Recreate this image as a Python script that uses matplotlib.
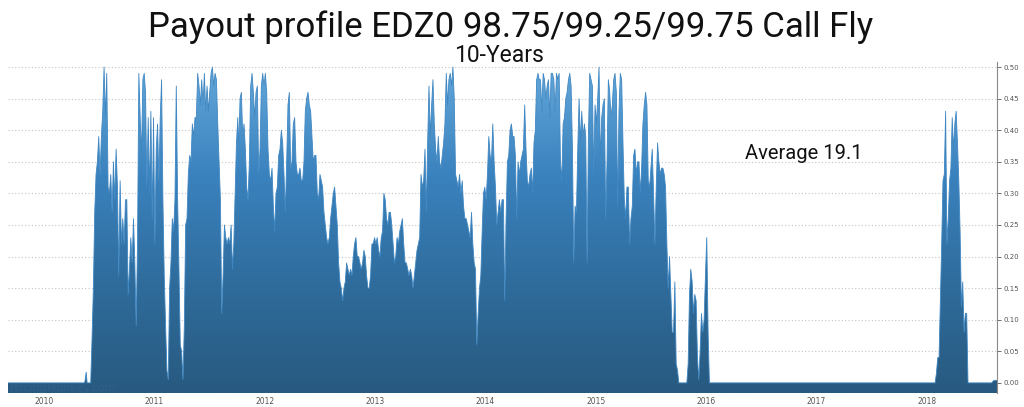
import numpy as np
import pandas as pd
import matplotlib
matplotlib.use('Agg')
import matplotlib.pyplot as plt
import matplotlib.dates as mdates
from matplotlib.colors import LinearSegmentedColormap
from matplotlib.patches import PathPatch

####################################################################################################
# payout values, one block per stretch of time

lead_dates = ['2009-09-03', '2010-05-15', '2010-05-20', '2010-05-23']
lead_values = [0.0, 0.0, 0.017, 0.0]

seg_a = ('2010-05-26', '2011-10-04')
seg_a_values = [
    0.0, 0.0, 0.0, 0.07, 0.15, 0.27, 0.33, 0.35, 0.39, 0.33, 0.39, 0.43, 0.50, 0.42, 0.49,
    0.31, 0.30, 0.33, 0.27, 0.35, 0.29, 0.37, 0.31, 0.17, 0.32, 0.22, 0.26, 0.22, 0.29, 0.29,
    0.14, 0.18, 0.23, 0.19, 0.26, 0.19, 0.09, 0.22, 0.49, 0.42, 0.36, 0.48, 0.49, 0.46, 0.31,
    0.42, 0.30, 0.43, 0.26, 0.42, 0.22, 0.37, 0.41, 0.32, 0.42, 0.48, 0.29, 0.17, 0.09, 0.02,
    0.005, 0.15, 0.19, 0.26, 0.24, 0.29, 0.47, 0.29, 0.18, 0.06, 0.05, 0.005, 0.09, 0.25, 0.26,
    0.33, 0.36, 0.35, 0.41, 0.39, 0.42, 0.42, 0.49, 0.47, 0.44, 0.48, 0.44, 0.49, 0.43, 0.47,
    0.43, 0.46, 0.49, 0.50, 0.47, 0.49, 0.48, 0.41, 0.35, 0.29, 0.11, 0.17, 0.25, 0.23, 0.22,
    0.23, 0.22, 0.25, 0.18, 0.22, 0.30, 0.38, 0.42,
]

seg_b = ('2011-10-07', '2013-02-12')
seg_b_values = [
    0.37, 0.45, 0.46, 0.39, 0.41, 0.37, 0.31, 0.29, 0.35, 0.47, 0.49, 0.46, 0.42, 0.46, 0.47,
    0.33, 0.37, 0.47, 0.49, 0.47, 0.49, 0.46, 0.37, 0.33, 0.32, 0.34, 0.28, 0.24, 0.30, 0.31,
    0.36, 0.37, 0.40, 0.38, 0.33, 0.27, 0.35, 0.44, 0.46, 0.34, 0.35, 0.41, 0.42, 0.35, 0.33,
    0.33, 0.34, 0.32, 0.32, 0.35, 0.43, 0.45, 0.46, 0.44, 0.43, 0.39, 0.35, 0.36, 0.36, 0.30,
    0.29, 0.33, 0.32, 0.31, 0.27, 0.25, 0.23, 0.22, 0.23, 0.26, 0.28, 0.30, 0.31, 0.28, 0.25,
    0.19, 0.16, 0.15, 0.13, 0.15, 0.16, 0.19, 0.18, 0.17, 0.18, 0.17, 0.20, 0.22, 0.23, 0.20,
    0.20, 0.19, 0.18, 0.19, 0.21, 0.20, 0.17, 0.15, 0.15, 0.17, 0.22, 0.22, 0.23, 0.22, 0.23,
    0.21, 0.20, 0.23, 0.24, 0.30, 0.29, 0.26, 0.25,
]

seg_c = ('2013-02-16', '2014-06-24')
seg_c_values = [
    0.27, 0.27, 0.25, 0.22, 0.19, 0.20, 0.23, 0.22, 0.24, 0.25, 0.26, 0.22, 0.19, 0.19, 0.18,
    0.17, 0.18, 0.17, 0.15, 0.17, 0.19, 0.21, 0.22, 0.23, 0.33, 0.31, 0.32, 0.37, 0.27, 0.38,
    0.47, 0.39, 0.44, 0.48, 0.41, 0.37, 0.35, 0.39, 0.35, 0.34, 0.36, 0.38, 0.41, 0.49, 0.44,
    0.48, 0.49, 0.47, 0.50, 0.45, 0.33, 0.32, 0.31, 0.33, 0.30, 0.32, 0.28, 0.26, 0.26, 0.25,
    0.24, 0.23, 0.27, 0.22, 0.19, 0.18, 0.06, 0.11, 0.15, 0.17, 0.24, 0.30, 0.31, 0.29, 0.33,
    0.39, 0.36, 0.35, 0.41, 0.35, 0.31, 0.25, 0.27, 0.29, 0.27, 0.29, 0.29, 0.13, 0.26, 0.35,
    0.36, 0.40, 0.41, 0.39, 0.39, 0.36, 0.26, 0.35, 0.33, 0.35, 0.36, 0.37, 0.44, 0.37, 0.32,
    0.31, 0.33, 0.34, 0.30, 0.38, 0.40, 0.48, 0.49,
]

seg_d = ('2014-06-28', '2016-02-17')
seg_d_values = [
    0.48, 0.48, 0.43, 0.49, 0.48, 0.45, 0.47, 0.48, 0.42, 0.49, 0.49, 0.48, 0.43, 0.49, 0.48,
    0.49, 0.35, 0.32, 0.41, 0.42, 0.45, 0.46, 0.48, 0.49, 0.47, 0.37, 0.19, 0.28, 0.27, 0.37,
    0.45, 0.38, 0.43, 0.39, 0.41, 0.39, 0.19, 0.39, 0.49, 0.48, 0.47, 0.33, 0.44, 0.41, 0.45,
    0.50, 0.35, 0.42, 0.44, 0.45, 0.26, 0.35, 0.48, 0.46, 0.42, 0.44, 0.48, 0.49, 0.46, 0.28,
    0.43, 0.49, 0.48, 0.38, 0.29, 0.26, 0.31, 0.31, 0.22, 0.26, 0.28, 0.36, 0.37, 0.33, 0.35,
    0.35, 0.30, 0.34, 0.41, 0.44, 0.46, 0.44, 0.32, 0.31, 0.34, 0.37, 0.30, 0.22, 0.31, 0.38,
    0.35, 0.33, 0.34, 0.34, 0.33, 0.31, 0.22, 0.15, 0.20, 0.14, 0.08, 0.08, 0.16, 0.03, 0.02,
    0.0, 0.0, 0.0, 0.0, 0.0, 0.0, 0.0, 0.03, 0.14, 0.18, 0.16, 0.11, 0.14, 0.13, 0.04,
    0.005, 0.05, 0.11, 0.08, 0.10, 0.17, 0.23, 0.08, 0.0, 0.0, 0.0, 0.0, 0.0, 0.0, 0.0,
    0.0, 0.0,
]

seg_e = ('2018-01-29', '2018-05-18')
seg_e_values = [
    0.0, 0.015, 0.04, 0.04, 0.13, 0.22, 0.32, 0.33, 0.43, 0.22, 0.26, 0.32, 0.34, 0.42, 0.37,
    0.41, 0.43, 0.38, 0.32, 0.24, 0.12, 0.16, 0.08, 0.11, 0.11, 0.0,
]

tail_dates = ['2018-05-22', '2018-08-04', '2018-08-12', '2018-08-22']
tail_values = [0.0, 0.0, 0.004, 0.004]

title = 'Payout profile EDZ0 98.75/99.25/99.75 Call Fly'
subtitle = '10-Years'
note = 'Average 19.1'
y_ticks = [0.00, 0.05, 0.10, 0.15, 0.20, 0.25, 0.30, 0.35, 0.40, 0.45, 0.50]

####################################################################################################

dates = list(pd.to_datetime(lead_dates))
values = list(lead_values)
for (start, end), seg in [(seg_a, seg_a_values), (seg_b, seg_b_values), (seg_c, seg_c_values),
                          (seg_d, seg_d_values), (seg_e, seg_e_values)]:
    dates.extend(pd.date_range(start, end, periods=len(seg)))
    values.extend(seg)
dates.extend(pd.to_datetime(tail_dates))
values.extend(tail_values)

x = mdates.date2num(dates)
y = np.array(values)
y_min = -0.016

fig = plt.figure(figsize=(10.24, 4.07), dpi=100)
ax = fig.add_axes([8 / 1024, 14 / 407, 989 / 1024, 331 / 407])

ax.set_xlim(x[0], x[-1])
ax.set_ylim(y_min, 0.508)

# gradient fill clipped by the area polygon
cmap = LinearSegmentedColormap.from_list('fly', ['#285a80', '#2f6c9c', '#3a82be', '#62a7da'])
poly = ax.fill_between(x, y, y_min, facecolor='none', edgecolor='none')
patch = PathPatch(poly.get_paths()[0], transform=ax.transData, facecolor='none', edgecolor='none')
ax.add_patch(patch)
grad = np.linspace(0, 1, 256).reshape(-1, 1)
im = ax.imshow(grad, extent=[x[0], x[-1], y_min, 0.5], origin='lower', aspect='auto',
               cmap=cmap, zorder=2, interpolation='bilinear')
im.set_clip_path(patch)
ax.plot(x, y, color='#3f87c2', lw=0.6, zorder=3)

ax.text(x[0] + 5, -0.0085, 'PricingMonkey.com', fontsize=8, color='#2f6188', va='center',
        zorder=4)

# axes styling
for side in ['left', 'top', 'bottom']:
    ax.spines[side].set_visible(False)
ax.spines['right'].set_color('#8a8a8a')
ax.spines['right'].set_linewidth(0.8)
ax.yaxis.tick_right()
ax.set_yticks(y_ticks)
ax.set_yticklabels(['%.2f' % t for t in y_ticks])
ax.tick_params(axis='y', labelsize=5, colors='#555555', length=3, width=0.6, pad=2)
ax.xaxis.set_major_locator(mdates.YearLocator())
ax.xaxis.set_major_formatter(mdates.DateFormatter('%Y'))
ax.tick_params(axis='x', labelsize=5.5, colors='#555555', length=0, pad=3)
ax.yaxis.grid(True, linestyle=(0, (1, 2)), color='#c4c4c4', lw=0.8, zorder=0)
ax.set_axisbelow(True)

fig.text(511 / 1024, 1 - 27 / 407, title, fontsize=25, ha='center', va='center',
         family='Roboto', color='#111111')
fig.text(499 / 1024, 1 - 55 / 407, subtitle, fontsize=16.5, ha='center', va='center',
         family='Roboto', color='#111111')
fig.text(745 / 1024, 1 - 153 / 407, note, fontsize=14.5, ha='left', va='center',
         family='Roboto', color='#111111')

fig.savefig('out.png', dpi=100)
